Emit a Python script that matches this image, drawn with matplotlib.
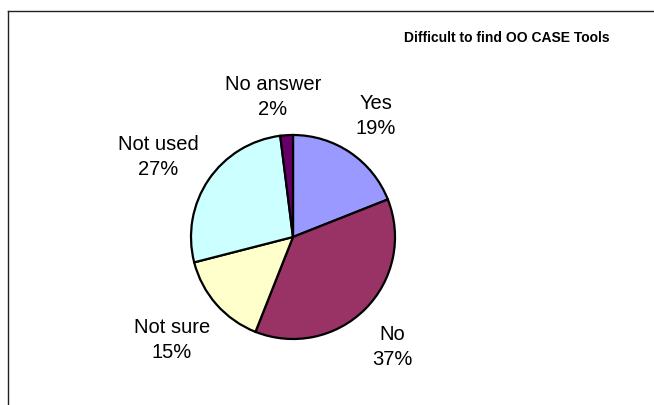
import numpy as np
import matplotlib
matplotlib.use("Agg")
import matplotlib.pyplot as plt

plt.rcParams['font.family'] = ['Liberation Sans', 'DejaVu Sans']

# Survey answers, clockwise from 12 o'clock
categories = ["Yes", "No", "Not sure", "Not used", "No answer"]
shares = [19, 37, 15, 27, 2]
colors = ["#9999FF", "#993366", "#FFFFCC", "#CCFFFF", "#660066"]
title = "Difficult to find OO CASE Tools"

W, H = 654, 405
fig = plt.figure(figsize=(W / 100, H / 100), dpi=100)
fig.patch.set_facecolor("white")

ax = fig.add_axes([0, 0, 1, 1])
ax.set_axis_off()

cx, cy, r = 293, H - 237, 102
wedges, _ = ax.pie(shares, colors=colors, startangle=90, counterclock=False,
                   center=(cx, cy), radius=r, frame=False,
                   wedgeprops=dict(edgecolor="black", linewidth=1.6))
ax.set_xlim(0, W)
ax.set_ylim(0, H)
ax.set_aspect("equal")

# Category / percentage labels placed outside each wedge's mid-angle
label_dist = [1.44, 1.45, 1.56, 1.54, 1.39]
angle_nudge = [0.0, -3.0, -1.0, 3.5, 4.5]
for w, name, pct, d, da in zip(wedges, categories, shares, label_dist, angle_nudge):
    mid = np.deg2rad((w.theta1 + w.theta2) / 2 + da)
    x = cx + d * r * np.cos(mid)
    y = cy + d * r * np.sin(mid)
    ax.text(x, y, f"{name}\n{pct}%", ha="center", va="center",
            fontsize=14.5, linespacing=1.4, color="black")

fig.text(507 / W, 1 - 38 / H, title, ha="center", va="center",
         fontsize=10, fontweight="bold")

# Chart area border (open on right and bottom)
fig.add_artist(plt.Line2D([8 / W, 8 / W], [0, 1 - 11 / H], color="#222222",
                          linewidth=1.0, transform=fig.transFigure))
fig.add_artist(plt.Line2D([8 / W, 1], [1 - 11 / H, 1 - 11 / H], color="#222222",
                          linewidth=1.0, transform=fig.transFigure))

fig.savefig("out.png", dpi=100, facecolor="white")
